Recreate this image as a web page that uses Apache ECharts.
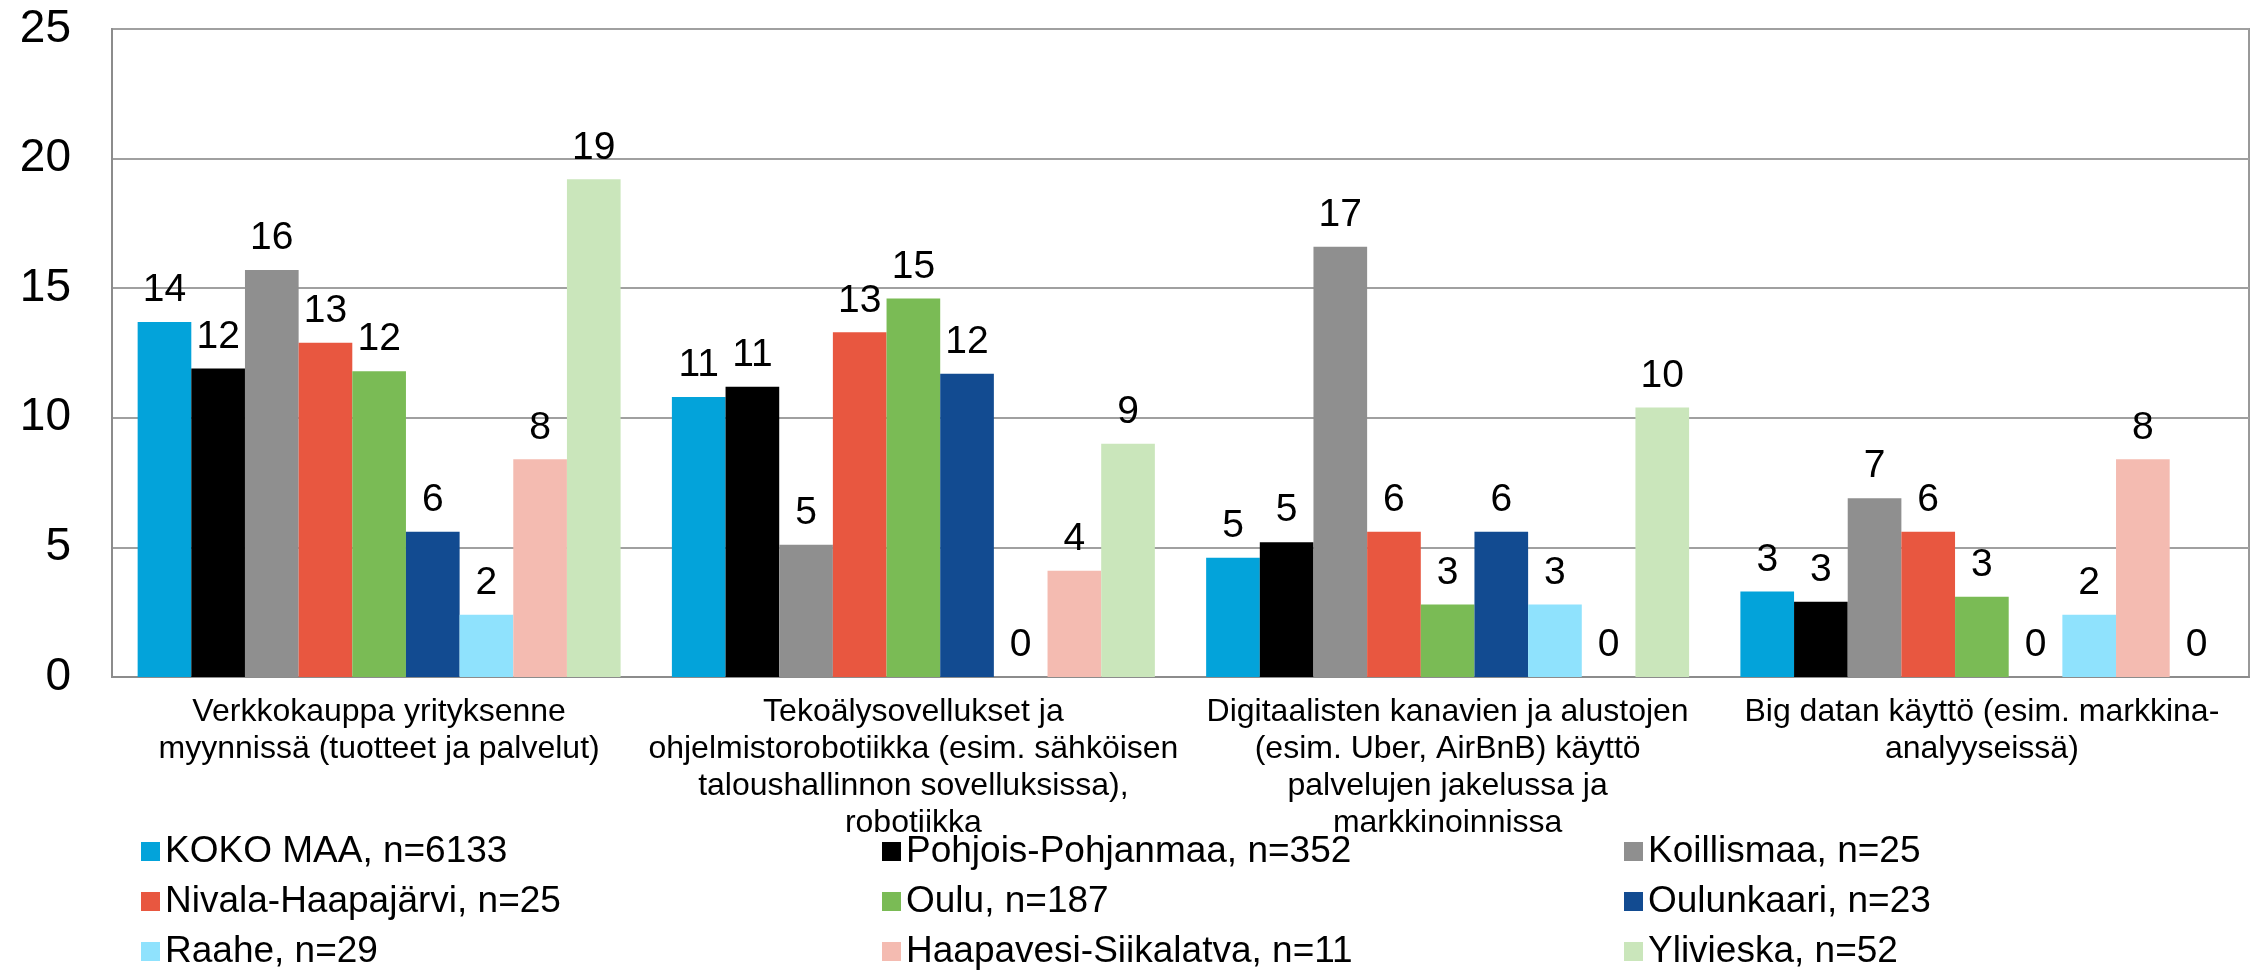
<!DOCTYPE html>
<html>
<head>
<meta charset="utf-8">
<script src="https://cdn.jsdelivr.net/npm/echarts@6/dist/echarts.min.js"></script>
<style>
  html, body { margin: 0; padding: 0; background: #fff; }
  #chart { width: 2260px; height: 970px; }
</style>
</head>
<body>
<div id="chart"></div>
<script>
// kategoriat (rivinvaihdot kuten alkuperäisessä)
const categories = [
  'Verkkokauppa yrityksenne\nmyynnissä (tuotteet ja palvelut)',
  'Tekoälysovellukset ja\nohjelmistorobotiikka (esim. sähköisen\ntaloushallinnon sovelluksissa),\nrobotiikka',
  'Digitaalisten kanavien ja alustojen\n(esim. Uber, AirBnB) käyttö\npalvelujen jakelussa ja\nmarkkinoinnissa',
  'Big datan käyttö (esim. markkina-\nanalyyseissä)'
]

const seriesNames = [
  'KOKO MAA, n=6133',
  'Pohjois-Pohjanmaa, n=352',
  'Koillismaa, n=25',
  'Nivala-Haapajärvi, n=25',
  'Oulu, n=187',
  'Oulunkaari, n=23',
  'Raahe, n=29',
  'Haapavesi-Siikalatva, n=11',
  'Ylivieska, n=52'
]

const colors = [
  '#03a3da', '#000000', '#8f8f8f', '#e85740', '#7abb55',
  '#124b91', '#8fe2fd', '#f4bbb1', '#cae6bb'
]

// arvot (%) sarjoittain, kategorioiden järjestyksessä
const kokoMaa = [13.7, 10.8, 4.6, 3.3]
const pohjoisPohjanmaa = [11.9, 11.2, 5.2, 2.9]
const koillismaa = [15.7, 5.1, 16.6, 6.9]
const nivalaHaapajarvi = [12.9, 13.3, 5.6, 5.6]
const oulu = [11.8, 14.6, 2.8, 3.1]
const oulunkaari = [5.6, 11.7, 5.6, 0]
const raahe = [2.4, 0, 2.8, 2.4]
const haapavesiSiikalatva = [8.4, 4.1, 0, 8.4]
const ylivieska = [19.2, 9.0, 10.4, 0]

const values = [
  kokoMaa, pohjoisPohjanmaa, koillismaa, nivalaHaapajarvi, oulu,
  oulunkaari, raahe, haapavesiSiikalatva, ylivieska
]

const yTicks = [0, 5, 10, 15, 20, 25]

const font = '"Liberation Sans", Arial, sans-serif'

const chart = echarts.init(document.getElementById('chart'))

// legenda kolmena sarakkeena
const legendCol = (idx, left) => ({
  orient: 'vertical',
  left: left,
  top: 833,
  height: 200,
  padding: 0,
  icon: 'rect',
  itemWidth: 19,
  itemHeight: 19,
  itemGap: 13,
  selectedMode: false,
  data: idx.map(i => seriesNames[i]),
  textStyle: {
    color: '#000',
    fontSize: 37,
    fontFamily: font,
    lineHeight: 37
  }
})

chart.setOption({
  animation: false,
  color: colors,
  grid: {
    left: 112,
    right: 11,
    top: 29,
    bottom: 293,
    show: true,
    borderColor: '#999',
    borderWidth: 2
  },
  legend: [
    legendCol([0, 3, 6], 141),
    legendCol([1, 4, 7], 882),
    legendCol([2, 5, 8], 1624)
  ],
  xAxis: {
    type: 'category',
    data: categories,
    axisTick: { show: false },
    axisLine: { lineStyle: { color: '#8c8c8c', width: 2 } },
    axisLabel: {
      interval: 0,
      margin: 17,
      color: '#000',
      fontSize: 32,
      lineHeight: 37,
      fontFamily: font,
      align: 'center'
    }
  },
  yAxis: {
    type: 'value',
    min: yTicks[0],
    max: yTicks[yTicks.length - 1],
    interval: 5,
    axisLine: { show: true, lineStyle: { color: '#8c8c8c', width: 2 } },
    axisTick: { show: false },
    splitLine: { lineStyle: { color: '#a0a0a0', width: 2 } },
    axisLabel: {
      color: '#000',
      fontSize: 46,
      fontFamily: font,
      margin: 41
    }
  },
  series: seriesNames.map((name, i) => ({
    name: name,
    type: 'bar',
    data: values[i],
    barGap: '0%',
    barCategoryGap: '9.6%',
    itemStyle: { color: colors[i] },
    label: {
      show: true,
      position: 'top',
      distance: 12,
      color: '#000',
      fontSize: 39,
      fontFamily: font,
      formatter: p => Math.round(p.value)
    }
  }))
})
</script>
</body>
</html>
